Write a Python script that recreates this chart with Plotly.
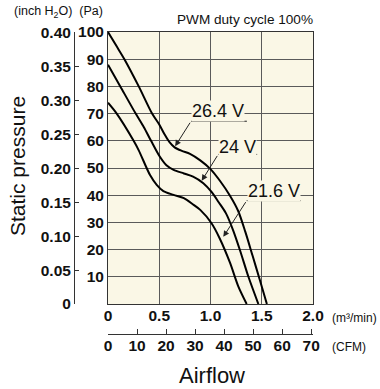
import plotly.graph_objects as go

# ---- data (airflow m3/min, static pressure Pa) ----
v264_flow = [0.00, 0.08, 0.16, 0.30, 0.43, 0.50, 0.55, 0.60, 0.65, 0.72, 0.80, 0.90, 1.00, 1.09, 1.19, 1.27, 1.34, 1.41, 1.48, 1.55]
v264_pa   = [100, 95, 90, 80, 70, 66, 62.5, 59.5, 57.6, 56.3, 55.2, 52.8, 49.6, 45.4, 39.8, 34.2, 26.5, 17.8, 9.0, 0]

v24_flow = [0.00, 0.12, 0.27, 0.35, 0.42, 0.50, 0.57, 0.64, 0.74, 0.83, 0.93, 1.01, 1.08, 1.15, 1.22, 1.29, 1.37, 1.467]
v24_pa   = [88, 80, 70, 65, 60, 54.5, 51, 49.3, 48, 46.8, 44.4, 41.2, 37.4, 33.4, 27.2, 19.5, 10, 0]

v216_flow = [0.00, 0.085, 0.25, 0.30, 0.41, 0.475, 0.54, 0.64, 0.74, 0.83, 0.90, 1.01, 1.09, 1.19, 1.27, 1.353]
v216_pa   = [74, 70, 60, 56.5, 47.4, 43.8, 41.5, 40.1, 38.9, 36.6, 34.6, 29.7, 24.1, 15.2, 6.6, 0]

series_names = ["26.4 V", "24 V", "21.6 V"]

pa_ticks = [10, 20, 30, 40, 50, 60, 70, 80, 90, 100]
inch_ticks = [0, 0.05, 0.10, 0.15, 0.20, 0.25, 0.30, 0.35, 0.40]
inch_labels = ["0", "0.05", "0.10", "0.15", "0.20", "0.25", "0.30", "0.35", "0.40"]
flow_ticks = [0, 0.5, 1.0, 1.5, 2.0]
flow_labels = ["0", "0.5", "1.0", "1.5", "2.0"]
cfm_ticks = [0, 10, 20, 30, 40, 50, 60, 70]

PA_PER_INCH = 249.089
M3MIN_PER_CFM = 0.0283168

# ---- layout constants ----
W, H = 380, 389
PL, PR, PT, PB = 108, 313, 32, 304
BG = "#FAF7E6"
GRID = "#5a5a5a"
NUM_FONT = dict(family="Liberation Sans Narrow, Liberation Sans, Arial", size=15.5, color="#111", weight="bold")
TXT_FONT = "Liberation Sans, Arial"

fig = go.Figure()
for fx, fy, name in [(v264_flow, v264_pa, series_names[0]),
                     (v24_flow, v24_pa, series_names[1]),
                     (v216_flow, v216_pa, series_names[2])]:
    fig.add_trace(go.Scatter(x=fx, y=fy, name=name, mode="lines",
                             line=dict(color="black", width=2, shape="spline", smoothing=0.8),
                             showlegend=False, hoverinfo="skip"))

# dummy traces so secondary axes are drawn
fig.add_trace(go.Scatter(x=[None], y=[None], xaxis="x", yaxis="y2", showlegend=False, hoverinfo="skip"))
fig.add_trace(go.Scatter(x=[None], y=[None], xaxis="x2", yaxis="y", showlegend=False, hoverinfo="skip"))

xdom = [PL / W, PR / W]
ydom = [(H - PB) / H, (H - PT) / H]

fig.update_layout(
    width=W, height=H,
    margin=dict(l=0, r=0, t=0, b=0, pad=0, autoexpand=False),
    paper_bgcolor="white", plot_bgcolor=BG,
    showlegend=False,
    xaxis=dict(domain=xdom, range=[0, 2.0], tickvals=flow_ticks, ticktext=flow_labels,
               showgrid=True, gridcolor=GRID, gridwidth=1, zeroline=False,
               showline=True, mirror=True, linecolor="#333", linewidth=1,
               ticks="", tickfont=NUM_FONT, ticklabelstandoff=-3,
               fixedrange=True, automargin=False),
    yaxis=dict(domain=ydom, range=[0, 100], tickvals=pa_ticks,
               showgrid=True, gridcolor=GRID, gridwidth=1, zeroline=False,
               showline=True, mirror=True, linecolor="#333", linewidth=1,
               ticks="", tickfont=NUM_FONT, fixedrange=True, automargin=False),
    yaxis2=dict(overlaying="y", anchor="free", position=74 / W, side="left",
                range=[0, 100 / PA_PER_INCH], tickvals=inch_ticks, ticktext=inch_labels,
                showgrid=False, zeroline=False, showline=True, linecolor="#333", linewidth=1,
                ticks="inside", ticklen=4, tickcolor="#333", tickfont=NUM_FONT, fixedrange=True,
                automargin=False),
    xaxis2=dict(overlaying="x", anchor="free", position=(H - 333.5) / H, side="bottom",
                range=[0, 2.0 / M3MIN_PER_CFM], tickvals=cfm_ticks,
                showgrid=False, zeroline=False, showline=True, linecolor="#333", linewidth=1,
                ticks="inside", ticklen=5, tickcolor="#333", tickfont=NUM_FONT,
                ticklabelstandoff=-2, fixedrange=True, automargin=False),
)

def px_x(p):
    return p / W

def px_y(p):
    return 1 - p / H

anns = [
    dict(text="(inch H<sub>2</sub>O)  (Pa)", x=px_x(12), y=px_y(12), xanchor="left", yanchor="middle",
         font=dict(family=TXT_FONT, size=12.5, color="#111")),
    dict(text="PWM duty cycle 100%", x=px_x(315), y=px_y(20), xanchor="right", yanchor="middle",
         font=dict(family=TXT_FONT, size=13.6, color="#111")),
    dict(text="Static pressure", x=px_x(17), y=px_y(166), xanchor="center", yanchor="middle",
         textangle=-90, font=dict(family=TXT_FONT, size=21, color="#111")),
    dict(text="Airflow", x=px_x(212), y=px_y(375), xanchor="center", yanchor="middle",
         font=dict(family=TXT_FONT, size=22, color="#111")),
    dict(text="(m³/min)", x=px_x(330), y=px_y(318), xanchor="left", yanchor="middle",
         font=dict(family=TXT_FONT, size=12, color="#111")),
    dict(text="(CFM)", x=px_x(330), y=px_y(347), xanchor="left", yanchor="middle",
         font=dict(family=TXT_FONT, size=12, color="#111")),
]
for a in anns:
    a.update(xref="paper", yref="paper", showarrow=False)
    fig.add_annotation(**a)

# series labels: (label, text left x, text center y, underline y, underline end x, arrow tip x, tip y)
labels = [
    (series_names[0], 0.81, 71.0, 67.2, 1.355, 0.655, 58.0),
    (series_names[1], 1.075, 57.8, 55.0, 1.455, 0.914, 45.3),
    (series_names[2], 1.353, 41.7, 38.0, 1.88, 1.125, 24.7),
]
for txt, x0, yc, yu, x1, tx, ty in labels:
    fig.add_annotation(text=txt, x=x0, y=yc, xref="x", yref="y", xanchor="left", yanchor="middle",
                       showarrow=False, bgcolor=BG, borderpad=0,
                       font=dict(family=TXT_FONT, size=18, color="#111"))
    fig.add_shape(type="line", x0=x0, x1=x1, y0=yu, y1=yu, xref="x", yref="y",
                  line=dict(color="#222", width=1))
    fig.add_annotation(x=tx, y=ty, ax=x0, ay=yu, xref="x", yref="y", axref="x", ayref="y",
                       text="", showarrow=True, arrowhead=2, arrowsize=1.2, arrowwidth=1,
                       arrowcolor="#222", standoff=0)

fig.write_html("out.html", config={"displayModeBar": False, "staticPlot": True},
               post_script="document.body.style.margin='0px';")
